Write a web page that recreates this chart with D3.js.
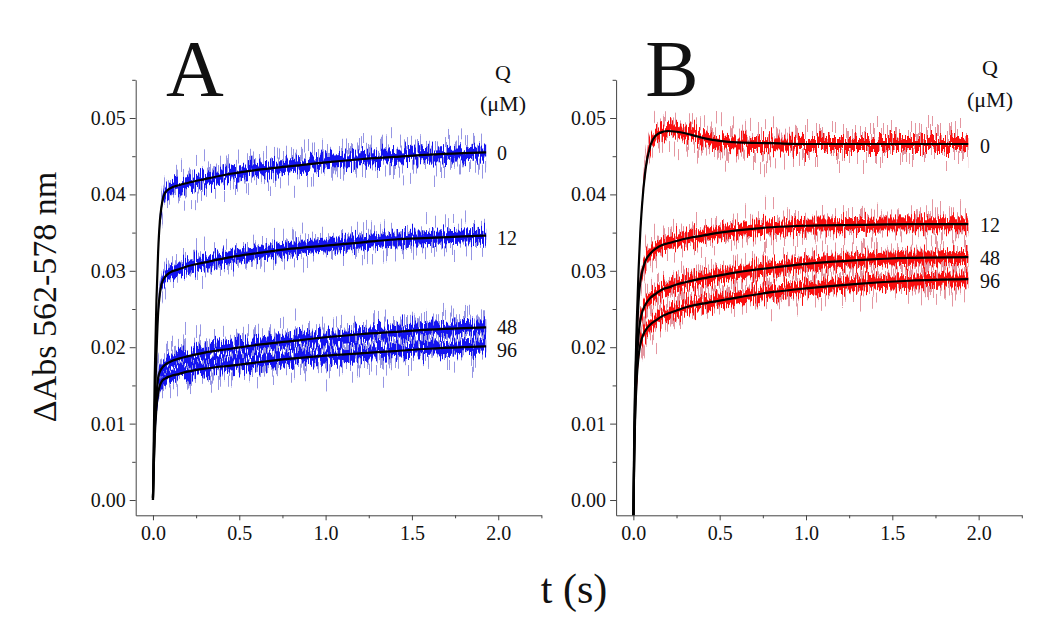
<!DOCTYPE html>
<html><head><meta charset="utf-8">
<script src="https://cdn.jsdelivr.net/npm/d3@7"></script>
<style>
body{margin:0;background:#fff}
svg{display:block}
text{font-family:"Liberation Serif","Times New Roman",serif;fill:#111}
</style>
</head><body>
<svg id="c" width="1050" height="625"></svg>
<script>
// ---------- data ----------
const xTickValues = [0, 0.5, 1.0, 1.5, 2.0];
const xTickLabels = ["0.0", "0.5", "1.0", "1.5", "2.0"];
const xMinorTicks = [0.25, 0.75, 1.25, 1.75, 2.25];
const yTickValues = [0, 0.01, 0.02, 0.03, 0.04, 0.05];
const yTickLabels = ["0.00", "0.01", "0.02", "0.03", "0.04", "0.05"];
const yMinorTicks = [0.005, 0.015, 0.025, 0.035, 0.045, 0.055];
const concentrations = ["0", "12", "48", "96"];

// Panel A (fitted curves), time in s
const tA  = [0, 0.005, 0.01, 0.02, 0.03, 0.04, 0.05, 0.07, 0.1, 0.15, 0.2, 0.3, 0.45, 0.6, 0.8, 1.0, 1.2, 1.4, 1.6, 1.8, 1.93];
const A0  = [0, 0.0085, 0.016, 0.026, 0.0325, 0.0365, 0.0385, 0.0402, 0.0408, 0.0412, 0.0415, 0.042, 0.0427, 0.0432, 0.0437, 0.0442, 0.0446, 0.0449, 0.0452, 0.0454, 0.0455];
const A12 = [0, 0.006, 0.0115, 0.019, 0.0245, 0.027, 0.0283, 0.0292, 0.0298, 0.0302, 0.0306, 0.0311, 0.0318, 0.0323, 0.0329, 0.0333, 0.0337, 0.0341, 0.0343, 0.0345, 0.0346];
const A48 = [0.0003, 0.005, 0.009, 0.0135, 0.016, 0.0168, 0.0172, 0.0177, 0.0181, 0.0185, 0.0188, 0.0193, 0.0198, 0.0203, 0.0208, 0.0213, 0.0217, 0.022, 0.0223, 0.0225, 0.0226];
const A96 = [0.0003, 0.0045, 0.008, 0.012, 0.014, 0.015, 0.0155, 0.0159, 0.0162, 0.0165, 0.0168, 0.0172, 0.0176, 0.018, 0.0185, 0.0189, 0.0192, 0.0195, 0.0198, 0.02, 0.0201];

// Panel B (fitted curves)
const tB  = [0, 0.005, 0.01, 0.02, 0.03, 0.04, 0.05, 0.07, 0.1, 0.13, 0.17, 0.2, 0.25, 0.3, 0.4, 0.5, 0.6, 0.8, 1.0, 1.3, 1.6, 1.94];
const B0  = [-0.003, 0.009, 0.015, 0.0235, 0.030, 0.035, 0.0385, 0.0432, 0.0465, 0.0477, 0.0482, 0.0483, 0.0482, 0.048, 0.0474, 0.047, 0.0468, 0.0467, 0.0466, 0.0466, 0.0466, 0.0466];
const B12 = [-0.003, 0.007, 0.0135, 0.021, 0.026, 0.0285, 0.0298, 0.0313, 0.0323, 0.0329, 0.0334, 0.0336, 0.0339, 0.0342, 0.0346, 0.035, 0.0353, 0.0357, 0.0359, 0.036, 0.0361, 0.0361];
const B48 = [-0.003, 0.006, 0.0115, 0.018, 0.0215, 0.0235, 0.0245, 0.0256, 0.0265, 0.027, 0.0276, 0.0278, 0.0282, 0.0285, 0.029, 0.0294, 0.0298, 0.0304, 0.0309, 0.0314, 0.0317, 0.0318];
const B96 = [-0.003, 0.0055, 0.0105, 0.016, 0.0188, 0.0203, 0.0212, 0.0222, 0.023, 0.0235, 0.0241, 0.0244, 0.0248, 0.0252, 0.0257, 0.0261, 0.0265, 0.0272, 0.0277, 0.0283, 0.0287, 0.0289];

// ---------- layout ----------
const svg = d3.select("#c");
const font = '"Liberation Serif","Times New Roman",serif';
const defs = svg.append("defs");

function noiseFilter(id, seed, scale) {
  const f = defs.append("filter").attr("id", id)
    .attr("filterUnits", "userSpaceOnUse")
    .attr("x", 0).attr("y", 0).attr("width", 1050).attr("height", 625)
    .attr("color-interpolation-filters", "sRGB");
  f.append("feTurbulence").attr("type", "fractalNoise")
    .attr("baseFrequency", "0.9 0.004").attr("numOctaves", 2).attr("seed", seed).attr("result", "tn");
  f.append("feColorMatrix").attr("in", "tn").attr("type", "matrix")
    .attr("values", "1 0 0 0 0  0 0 0 0 0.5  0 0 0 0 0  0 0 0 0 1").attr("result", "tm");
  f.append("feDisplacementMap").attr("in", "SourceGraphic").attr("in2", "tm")
    .attr("scale", scale).attr("xChannelSelector", "G").attr("yChannelSelector", "R");
}
noiseFilter("nOuter", 7, 82);
noiseFilter("nCore", 19, 30);

const panels = [
  { key: "A", x0: 135.7, times: tA, series: [A0, A12, A48, A96],
    core: "rgb(20,20,240)", light: "rgb(150,150,228)",
    letterX: 195, qX: 503, labX: 497, labY: [160, 245, 334, 357], qY: 80, muY: 111 },
  { key: "B", x0: 616.1, times: tB, series: [B0, B12, B48, B96],
    core: "rgb(250,15,15)", light: "rgb(228,150,160)",
    letterX: 672, qX: 990, labX: 980, labY: [153, 232, 265, 288], qY: 75, muY: 107 }
];

const W = 405.7;
const yTop = 79.8, yBot = 515.3;

panels.forEach((p, pi) => {
  const x = d3.scaleLinear().domain([-0.1, 2.25]).range([p.x0, p.x0 + W]);
  const y = d3.scaleLinear().domain([-0.002, 0.055]).range([yBot, yTop]);
  const g = svg.append("g");

  defs.append("clipPath").attr("id", "clip" + p.key)
    .append("rect").attr("x", p.x0).attr("y", yTop - 30).attr("width", W + 10).attr("height", yBot - yTop + 30);

  const line = d3.line().x(d => x(d[0])).y(d => y(d[1])).curve(d3.curveMonotoneX);
  const band = h => d3.area().x(d => x(d[0])).y0(d => y(d[1]) + h).y1(d => y(d[1]) - h).curve(d3.curveMonotoneX);
  const plot = g.append("g").attr("clip-path", `url(#clip${p.key})`);

  const seriesPts = p.series.map(vals => p.times.map((t, i) => [t, vals[i]]));
  const noisePts = seriesPts.map(pts => pts.filter(d => d[0] >= 0.005));

  plot.append("g").attr("filter", "url(#nOuter)")
    .selectAll("path").data(noisePts).join("path")
    .attr("d", band(6)).attr("fill", p.light).attr("stroke", "none");
  plot.append("g").attr("filter", "url(#nCore)")
    .selectAll("path").data(noisePts).join("path")
    .attr("d", band(6)).attr("fill", p.core).attr("stroke", "none");
  plot.append("g")
    .selectAll("path").data(seriesPts).join("path")
    .attr("d", line).attr("fill", "none").attr("stroke", "#000").attr("stroke-width", 2.2);

  // axes
  const ax = g.append("g").attr("transform", `translate(0,${yBot})`)
    .call(d3.axisBottom(x).tickValues(xTickValues).tickFormat((d, i) => xTickLabels[i]).tickSize(5).tickSizeOuter(0).tickPadding(6));
  const axm = g.append("g").attr("transform", `translate(0,${yBot})`)
    .call(d3.axisBottom(x).tickValues(xMinorTicks).tickFormat("").tickSize(3).tickSizeOuter(0));
  axm.select(".domain").remove();
  const ay = g.append("g").attr("transform", `translate(${p.x0},0)`)
    .call(d3.axisLeft(y).tickValues(yTickValues).tickFormat((d, i) => yTickLabels[i]).tickSize(6).tickSizeOuter(0).tickPadding(4));
  const aym = g.append("g").attr("transform", `translate(${p.x0},0)`)
    .call(d3.axisLeft(y).tickValues(yMinorTicks).tickFormat("").tickSize(3.5).tickSizeOuter(0));
  aym.select(".domain").remove();
  [ax, axm, ay, aym].forEach(a => {
    a.selectAll("path,line").attr("stroke", "#444").attr("stroke-width", 1);
    a.selectAll("text").attr("font-family", font).attr("font-size", 20).attr("fill", "#222");
  });

  // panel letter
  g.append("text").attr("x", p.letterX).attr("y", 96).attr("text-anchor", "middle")
    .attr("font-size", 80).attr("fill", "#000").text(p.key);

  // concentration labels
  g.append("text").attr("x", p.qX).attr("y", p.qY).attr("text-anchor", "middle").attr("font-size", 22).text("Q");
  g.append("text").attr("x", p.qX).attr("y", p.muY).attr("text-anchor", "middle").attr("font-size", 22).text("(μM)");
  concentrations.forEach((c, i) => {
    g.append("text").attr("x", p.labX).attr("y", p.labY[i]).attr("font-size", 20).text(c);
  });
});

// axis titles
svg.append("text").attr("transform", "translate(56,297) rotate(-90)").attr("text-anchor", "middle")
  .attr("font-size", 34).text("ΔAbs 562-578 nm");
svg.append("text").attr("x", 574).attr("y", 603).attr("text-anchor", "middle")
  .attr("font-size", 42).text("t (s)");
</script>
</body></html>
